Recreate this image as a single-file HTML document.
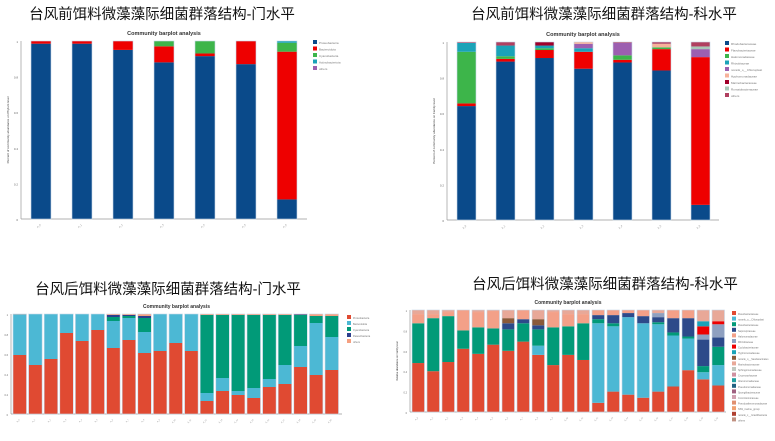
<!DOCTYPE html>
<html><head><meta charset="utf-8"><style>
body{margin:0;background:#fff;width:775px;height:436px;overflow:hidden}
svg text{font-family:"Liberation Sans","Noto Sans CJK SC",sans-serif}
</style></head><body>
<svg id="s" width="775" height="436" xmlns="http://www.w3.org/2000/svg">
<text x="162" y="19" font-size="14.5" text-anchor="middle" fill="#111">台风前饵料微藻藻际细菌群落结构-门水平</text>
<text x="604" y="19" font-size="14.5" text-anchor="middle" fill="#111">台风前饵料微藻藻际细菌群落结构-科水平</text>
<text x="168" y="294" font-size="14.5" text-anchor="middle" fill="#111">台风后饵料微藻藻际细菌群落结构-门水平</text>
<text x="605" y="289" font-size="14.5" text-anchor="middle" fill="#111">台风后饵料微藻藻际细菌群落结构-科水平</text>
</svg>
<script>
const s=document.getElementById('s');const NS='http://www.w3.org/2000/svg';
function el(t,a,txt){const e=document.createElementNS(NS,t);for(const k in a)e.setAttribute(k,a[k]);if(txt)e.textContent=txt;s.appendChild(e);return e;}
function chart(o){
 const {x0,x1,top,bot,bx,sp,bw,data,cols,legend,lx,ly,lsp,title,ylab,fs}=o;
 el('text',{x:(x0+x1)/2,y:top-6,'font-size':fs+1.5,'font-weight':'bold','text-anchor':'middle',fill:'#333'},title);
 el('line',{x1:x0,y1:bot,x2:x1,y2:bot,stroke:'#999','stroke-width':0.7});
 el('line',{x1:x0,y1:top,x2:x0,y2:bot,stroke:'#999','stroke-width':0.7});
 for(let i=0;i<=5;i++){const y=bot-(bot-top)*i/5;el('text',{x:x0-3,y:y+2,'font-size':fs-1,'text-anchor':'end',fill:'#666'},i==0?'0':i==5?'1':(i/5).toFixed(1));}
 el('text',{transform:`translate(${x0-12},${(top+bot)/2}) rotate(-90)`,'font-size':fs-1,'text-anchor':'middle',fill:'#333'},ylab);
 data.forEach((d,i)=>{const x=bx+i*sp;let prev=0;d.forEach((v,j)=>{if(v<=prev)return;const y1=bot-(bot-top)*v,y0=bot-(bot-top)*prev;el('rect',{x:x,y:y1,width:bw,height:y0-y1,fill:cols[j%cols.length]});prev=v;});
  el('rect',{x:x,y:top,width:bw,height:bot-top,fill:'none',stroke:'#c8d8e8','stroke-width':0.6});
  el('text',{transform:`translate(${x+bw/2},${bot+6}) rotate(-45)`,'font-size':fs-1.5,'text-anchor':'end',fill:'#888'},'A_'+i);});
 legend.forEach((n,i)=>{el('rect',{x:lx,y:ly+i*lsp,width:4,height:4,fill:cols[i%cols.length]});el('text',{x:lx+6,y:ly+i*lsp+4,'font-size':fs-1,fill:'#777'},n);});
}
const c1=['#0a4a8a','#ee0000','#3db54a','#1aa3b8','#9c5fb0'];
chart({x0:21,x1:307,top:41,bot:219,bx:31,sp:41,bw:20,fs:4,title:'Community barplot analysis',ylab:'Percent of community abundance on Phylum level',cols:c1,
 legend:['Proteobacteria','Bacteroidota','Cyanobacteria','Actinobacteriota','others'],lx:313,ly:40,lsp:6.5,
 data:[[.985,1],[.985,1],[.95,1],[.88,.97,1],[.915,.93,1],[.87,1],[.11,.94,.99,1]]});
const c2=['#0a4a8a','#ee0000','#3db54a','#1aa3b8','#9c5fb0','#f7b29a','#a0002a','#a8c8b8','#b04060'];
chart({x0:447,x1:719,top:42,bot:220,bx:457,sp:39,bw:19,fs:4,title:'Community barplot analysis',ylab:'Percent of community abundance on Family level',cols:c2,
 legend:['Rhodobacteraceae','Flavobacteriaceae','Halomonadaceae','Rhizobiaceae','norank_o__Chloroplast','Hyphomonadaceae','Marinobacteraceae','Rumatobacteraceae','others'],lx:725,ly:41,lsp:6.5,
 data:[[.64,.655,.945,.995,0,0,0,0,1],[.89,.905,.92,.98,0,0,0,0,1],[.91,.955,.965,.98,0,0,1],[.85,.945,0,.965,.99,1],[.885,.9,.925,0,.995,0,0,0,1],[.84,.96,.97,0,0,.99,0,0,1],[.085,.915,0,0,.96,0,0,.975,1]]});
const c3=['#e04a32','#4cb8d4','#019a78','#2d3f8c','#f5a080'];
const d3=[[.59,.995,0,0,1],[.49,1],[.55,1],[.81,1],[.73,1],[.84,1],[.66,.93,.97,.99,1],[.74,.96,.98,.99,1],[.61,.82,.96,.98,1],[.63,1],[.71,1],[.63,1],[.13,.21,.99,0,1],[.23,.36,.99,0,1],[.19,.23,.99,0,1],[.16,.26,.99,0,1],[.27,.35,.99,0,1],[.30,.49,.99,0,1],[.47,.68,.99,.995,1],[.39,.91,.98,0,1],[.44,.77,.98,0,1]];
chart({x0:11,x1:342,top:314,bot:414,bx:13,sp:15.6,bw:13.5,fs:3.5,title:'Community barplot analysis',ylab:'Relative abundance on Phylum level',cols:c3,
 legend:['Proteobacteria','Bacteroidota','Cyanobacteria','Patescibacteria','others'],lx:347,ly:315,lsp:6,data:d3});
const c4=['#e04a32','#4cb8d4','#019a78','#2d4a8a','#f3a088','#8fa0c0','#ee0000','#1aa3b8','#8a5a3a','#e8a898','#c0c8c0','#d090a0','#20a0a0','#206080','#a06080','#d0a0b0','#e09070','#f0a070','#b04030','#c09080'];
const d4=[[.48,0,.87,0,.96,0,0,0,0,1],[.40,0,.92,0,.96,0,0,0,0,1],[.49,0,.94,0,.98,0,0,0,0,1],[.62,0,.80,0,1],[.57,0,.83,0,.98,0,0,0,0,1],[.66,0,.82,0,.99,0,0,0,0,1],[.60,0,.81,.87,0,0,0,0,.92,1],[.69,0,.87,.91,1],[.56,.65,.81,.85,0,0,0,0,.91,1],[.46,0,.83,0,.98,0,0,0,0,1],[.56,0,.84,0,.96,0,0,0,0,1],[.51,0,.87,0,.96,0,0,0,0,1],[.09,.87,.91,.95,1],[.20,.84,.87,.95,1],[.17,.93,0,.97,1],[.14,.87,0,.94,1],[.20,.86,.88,.93,0,.97,0,0,0,1],[.25,.75,.78,.92,1],[.41,.72,.74,.92,1],[.32,.39,.45,.71,0,.76,.84,.89,0,1],[.26,.46,.64,.73,0,.86,.89,0,0,1]];
chart({x0:410,x1:726,top:310,bot:412,bx:412,sp:15,bw:12.5,fs:3.5,title:'Community barplot analysis',ylab:'Relative abundance on Family level',cols:c4,
 legend:['Flavobacteriaceae','norank_o__Chloroplast','Flavobacteriaceae','Saprospiraceae','Halomonadaceae','Rhizobiaceae','Cyclobacteriaceae','Hyphomonadaceae','norank_o__Sandaracinales','Marinobacteraceae','Sphingomonadaceae','Cryomorphaceae','Alteromonadaceae','Pseudomonadaceae','Spongiibacteraceae','Crocinitomicaceae','Pseudoalteromonadaceae','NS9_marine_group','norank_c__Gracilibacteria','others'],lx:732,ly:311,lsp:5.6,data:d4});
</script>
</body></html>
